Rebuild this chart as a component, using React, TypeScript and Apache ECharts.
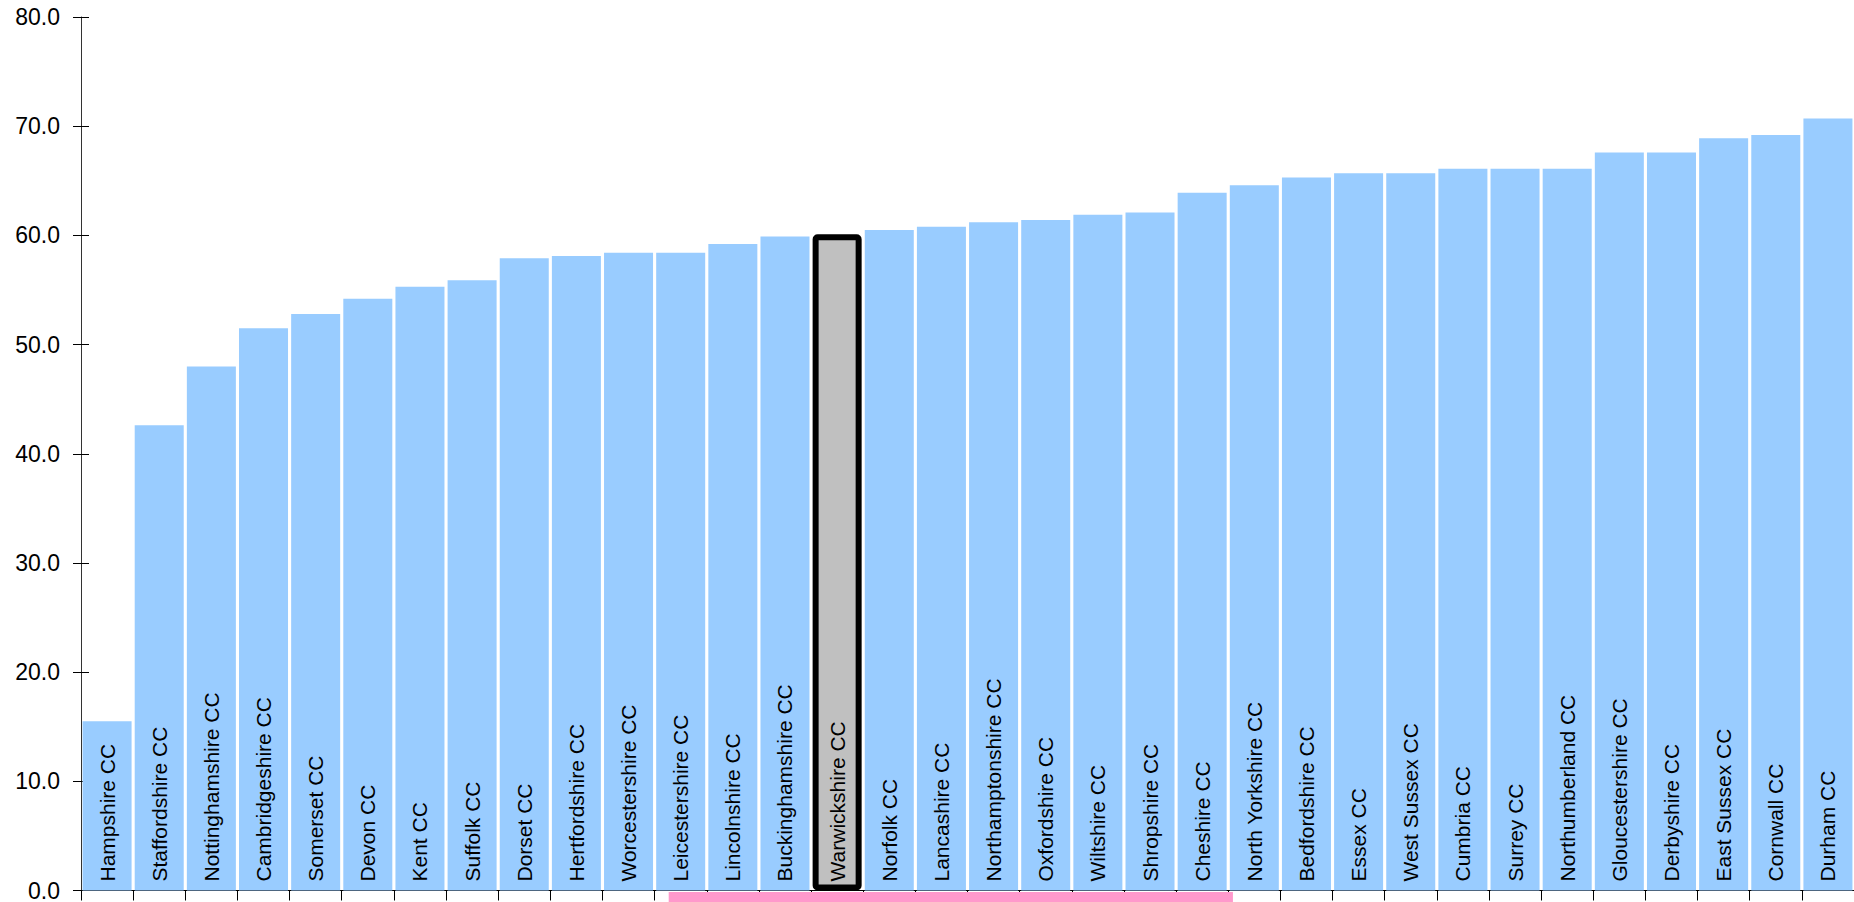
import React, { useEffect, useRef } from "react";
import * as echarts from "echarts";

const categories = [
  "Hampshire CC", "Staffordshire CC", "Nottinghamshire CC", "Cambridgeshire CC",
  "Somerset CC", "Devon CC", "Kent CC", "Suffolk CC", "Dorset CC", "Hertfordshire CC",
  "Worcestershire CC", "Leicestershire CC", "Lincolnshire CC", "Buckinghamshire CC",
  "Warwickshire CC", "Norfolk CC", "Lancashire CC", "Northamptonshire CC",
  "Oxfordshire CC", "Wiltshire CC", "Shropshire CC", "Cheshire CC", "North Yorkshire CC",
  "Bedfordshire CC", "Essex CC", "West Sussex CC", "Cumbria CC", "Surrey CC",
  "Northumberland CC", "Gloucestershire CC", "Derbyshire CC", "East Sussex CC",
  "Cornwall CC", "Durham CC",
];

const values = [
  15.5, 42.6, 48.0, 51.5, 52.8, 54.2, 55.3, 55.9, 57.9, 58.1,
  58.4, 58.4, 59.2, 59.9, 60.1, 60.5, 60.8, 61.2, 61.4, 61.9,
  62.1, 63.9, 64.6, 65.3, 65.7, 65.7, 66.1, 66.1, 66.1, 67.6,
  67.6, 68.9, 69.2, 70.7,
];

const highlightCategory = "Warwickshire CC";

const yMin = 0;
const yMax = 80;
const yInterval = 10;

// range band below the axis, in category-width units from the axis start
const bandRange = [11.27, 22.09];

export default function App() {
  const ref = useRef<HTMLDivElement>(null);

  useEffect(() => {
    document.body.style.margin = "0";
    const chart = echarts.init(ref.current!, null, { renderer: "svg" });

    const data = values.map((v, i) =>
      categories[i] === highlightCategory
        ? {
            value: v,
            itemStyle: {
              color: "#C0C0C0",
              borderColor: "#000000",
              borderWidth: 6,
              borderRadius: 2,
            },
          }
        : v
    );

    const labelFont = "'Liberation Sans', Arial, Helvetica, sans-serif";

    chart.setOption({
      animation: false,
      grid: { left: 81, top: 17, width: 1775, height: 876, containLabel: false },
      xAxis: {
        type: "category",
        data: categories,
        axisLine: { show: true, lineStyle: { color: "#000", width: 1 } },
        axisTick: { show: true, interval: 0, length: 10, lineStyle: { color: "#000" } },
        axisLabel: { show: false },
        splitLine: { show: false },
      },
      yAxis: [
        {
          type: "value",
          min: yMin,
          max: yMax,
          interval: yInterval,
          axisLine: { show: true, lineStyle: { color: "#333", width: 1 } },
          axisTick: { show: true, length: 8, lineStyle: { color: "#000" } },
          axisLabel: {
            margin: 21,
            color: "#000",
            fontSize: 23,
            fontFamily: labelFont,
            formatter: (v: number) => v.toFixed(1),
          },
          splitLine: { show: false },
        },
        {
          type: "value",
          min: yMin,
          max: yMax,
          interval: yInterval,
          position: "left",
          axisLine: { show: false },
          axisTick: { show: true, inside: true, length: 8, lineStyle: { color: "#000" } },
          axisLabel: { show: false },
          splitLine: { show: false },
        },
      ],
      series: [
        {
          type: "bar",
          yAxisIndex: 0,
          data,
          barCategoryGap: "6%",
          itemStyle: { color: "#99CCFF" },
          label: {
            show: true,
            position: "insideBottom",
            rotate: 90,
            align: "left",
            verticalAlign: "middle",
            distance: 9,
            color: "#000",
            fontSize: 21,
            fontFamily: labelFont,
            formatter: "{b}",
          },
        },
      ],
    });

    const c0 = chart.convertToPixel({ xAxisIndex: 0 }, categories[0]) as number;
    const c1 = chart.convertToPixel({ xAxisIndex: 0 }, categories[1]) as number;
    const pitch = c1 - c0;
    const left = c0 - pitch / 2;
    const y0 = chart.convertToPixel({ yAxisIndex: 0 }, yMin) as number;
    const bx0 = left + bandRange[0] * pitch;
    const bx1 = left + bandRange[1] * pitch;

    chart.setOption({
      graphic: [
        {
          type: "rect",
          z: 100,
          shape: { x: bx0, y: y0 + 1.5, width: bx1 - bx0, height: 12 },
          style: { fill: "#FF99CC" },
        },
      ],
    });

    return () => chart.dispose();
  }, []);

  return (
    <div
      ref={ref}
      style={{ position: "absolute", left: 0, top: 0, width: 1854, height: 902 }}
    />
  );
}
